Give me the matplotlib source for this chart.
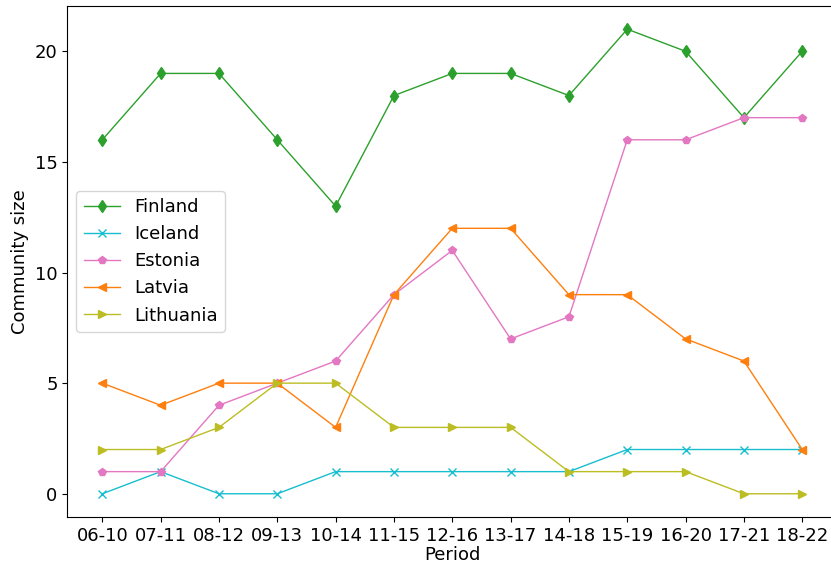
import matplotlib.pyplot as plt

periods = ["06-10", "07-11", "08-12", "09-13", "10-14", "11-15", "12-16",
           "13-17", "14-18", "15-19", "16-20", "17-21", "18-22"]

finland = [16, 19, 19, 16, 13, 18, 19, 19, 18, 21, 20, 17, 20]
iceland = [0, 1, 0, 0, 1, 1, 1, 1, 1, 2, 2, 2, 2]
estonia = [1, 1, 4, 5, 6, 9, 11, 7, 8, 16, 16, 17, 17]
latvia = [5, 4, 5, 5, 3, 9, 12, 12, 9, 9, 7, 6, 2]
lithuania = [2, 2, 3, 5, 5, 3, 3, 3, 1, 1, 1, 0, 0]

fig = plt.figure(figsize=(8.31, 5.67), dpi=100)
# axes run slightly past the right edge of the canvas
ax = fig.add_axes([0.081, 0.0882, 0.9265, 0.9013])

ms = 6
ax.plot(periods, finland, color="tab:green", marker="d", ms=ms, lw=1, label="Finland")
ax.plot(periods, iceland, color="tab:cyan", marker="x", ms=ms, lw=1, label="Iceland")
ax.plot(periods, estonia, color="tab:pink", marker="p", ms=ms, lw=1, label="Estonia")
ax.plot(periods, latvia, color="tab:orange", marker="<", ms=ms, lw=1, label="Latvia")
ax.plot(periods, lithuania, color="tab:olive", marker=">", ms=ms, lw=1, label="Lithuania")

ax.set_xlabel("Period", fontsize=13, labelpad=1)
ax.set_ylabel("Community size", fontsize=13)
ax.tick_params(labelsize=13)
ax.legend(fontsize=13, loc="center left")

plt.savefig("out.png")
